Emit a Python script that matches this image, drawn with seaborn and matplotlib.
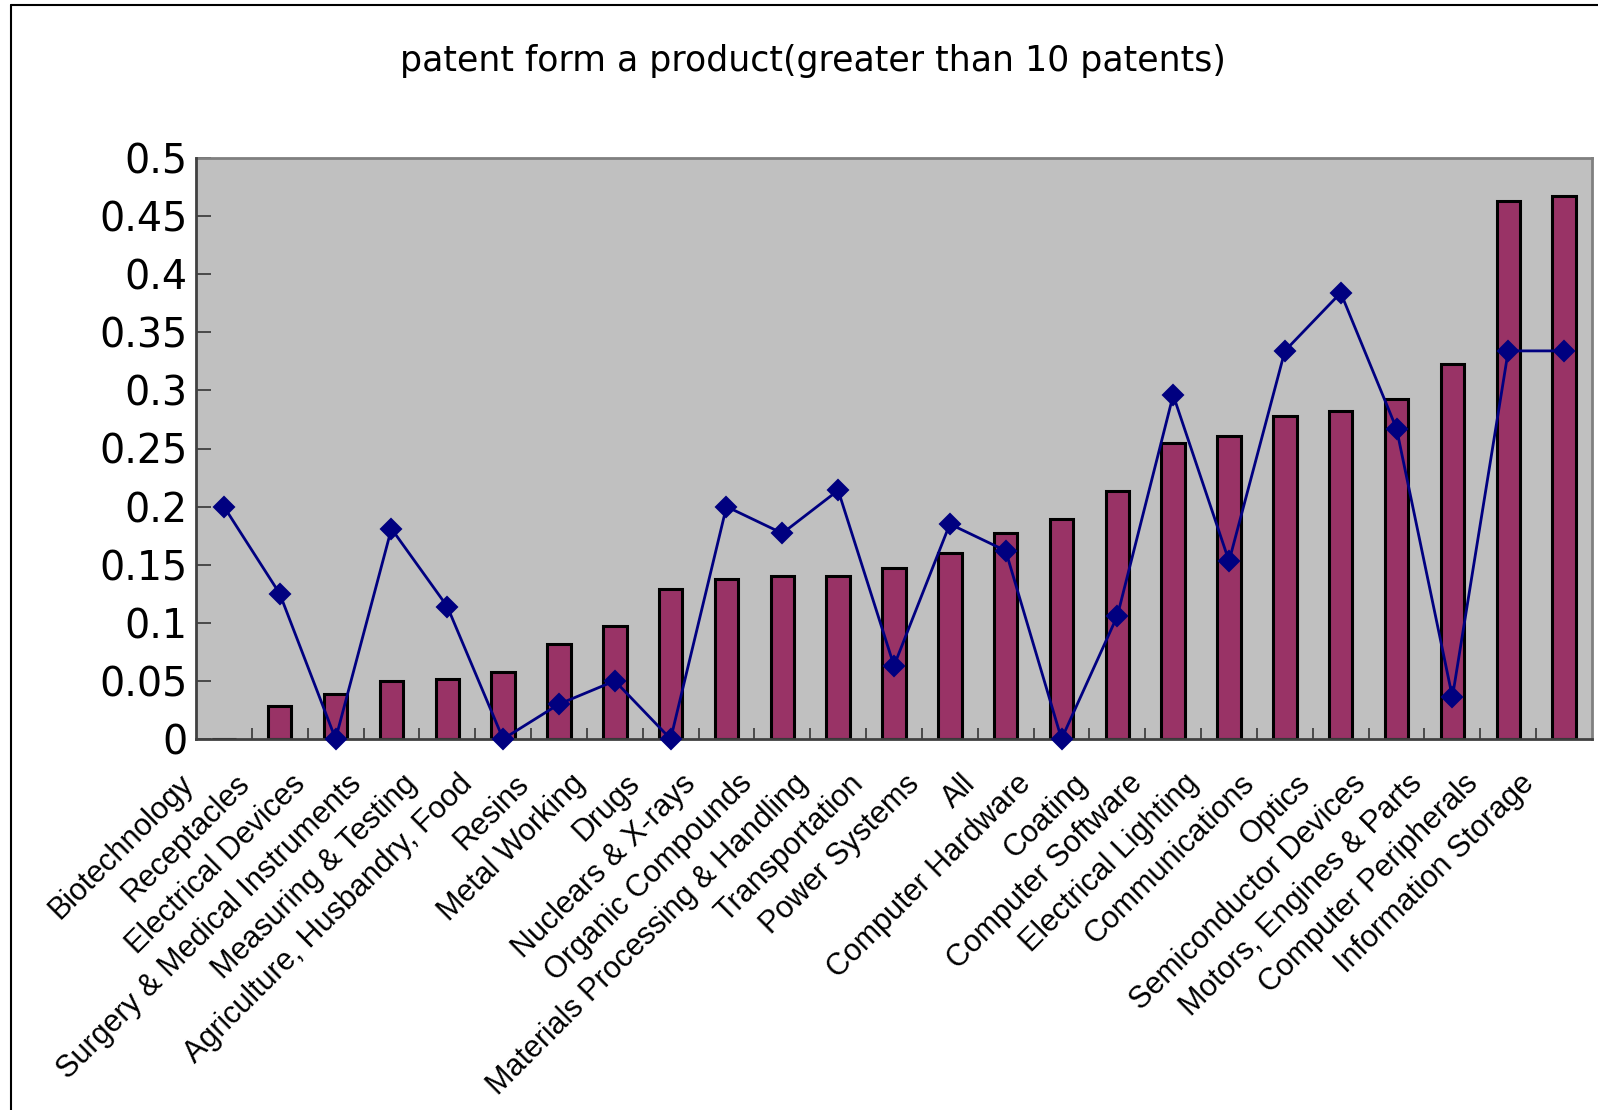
import matplotlib
matplotlib.use("Agg")
import matplotlib.pyplot as plt
import matplotlib.transforms as mtransforms
from matplotlib.lines import Line2D
import seaborn as sns
import pandas as pd

# categories (in chart order)
categories = [
    "Biotechnology", "Receptacles", "Electrical Devices",
    "Surgery & Medical Instruments", "Measuring & Testing",
    "Agriculture, Husbandry, Food", "Resins", "Metal Working", "Drugs",
    "Nuclears & X-rays", "Organic Compounds", "Materials Processing & Handling",
    "Transportation", "Power Systems", "All", "Computer Hardware", "Coating",
    "Computer Software", "Electrical Lighting", "Communications", "Optics",
    "Semiconductor Devices", "Motors, Engines & Parts", "Computer Peripherals",
    "Information Storage",
]

# bar series
bar_values = [
    0.0, 0.028, 0.039, 0.050, 0.052, 0.058, 0.082, 0.097, 0.129, 0.138,
    0.140, 0.140, 0.147, 0.160, 0.177, 0.189, 0.213, 0.255, 0.261, 0.278,
    0.282, 0.293, 0.323, 0.463, 0.467,
]

# line series
line_values = [
    0.200, 0.125, 0.0, 0.181, 0.114, 0.0, 0.030, 0.050, 0.0, 0.200,
    0.177, 0.214, 0.063, 0.185, 0.162, 0.0, 0.106, 0.296, 0.153, 0.334,
    0.384, 0.267, 0.036, 0.334, 0.334,
]

y_ticks = [0, 0.05, 0.1, 0.15, 0.2, 0.25, 0.3, 0.35, 0.4, 0.45, 0.5]
y_tick_labels = ["0", "0.05", "0.1", "0.15", "0.2", "0.25", "0.3", "0.35",
                 "0.4", "0.45", "0.5"]

title = "patent form a product(greater than 10 patents)"

df = pd.DataFrame({"category": categories, "bar": bar_values, "line": line_values})

sns.set_style("white")
plt.rcParams["font.family"] = ["DejaVu Sans"]
plt.rcParams["text.color"] = "black"

W, H = 1598, 1110
fig = plt.figure(figsize=(W / 100, H / 100), dpi=100)
ax = fig.add_axes([196 / W, 1 - 739 / H, (1592 - 196) / W, (739 - 158) / H])
ax.set_facecolor("#C0C0C0")

sns.barplot(data=df, x="category", y="bar", color="#993366", width=0.42,
            edgecolor="black", linewidth=2.2, saturation=1, ax=ax, zorder=2)
sns.pointplot(data=df, x="category", y="line", color="#000080", markers="D",
              markersize=10, linewidth=2.0, ax=ax, zorder=4)
for ln in ax.lines:
    ln.set_clip_on(False)

ax.set_xlim(-0.5, len(categories) - 0.5)
ax.set_ylim(0, 0.5)
ax.set_xlabel("")
ax.set_ylabel("")

# y axis
ax.set_yticks(y_ticks)
ax.set_yticklabels(y_tick_labels, fontsize=28.5, family="DejaVu Sans",
                   color="black")
ax.tick_params(axis="y", direction="in", length=11, width=1.3,
               color="#404040", pad=6, left=True)

# x axis: ticks between categories, labels at centres
ax.set_xticks(range(len(categories)))
ax.set_xticklabels(categories, rotation=45, ha="right", va="center",
                   rotation_mode="anchor", fontsize=22,
                   family="Liberation Sans", color="black")
ax.tick_params(axis="x", which="major", length=0, pad=29)
ax.set_xticks([i + 0.5 for i in range(len(categories) - 1)], minor=True)
ax.tick_params(axis="x", which="minor", direction="in", length=8, width=1.3,
               color="#404040", bottom=True)
offset = mtransforms.ScaledTranslation(-25 / 72, 0, fig.dpi_scale_trans)
for lab in ax.get_xticklabels():
    lab.set_transform(lab.get_transform() + offset)

for side in ["top", "right"]:
    ax.spines[side].set_color("#808080")
    ax.spines[side].set_linewidth(2)
for side in ["left", "bottom"]:
    ax.spines[side].set_color("#404040")
    ax.spines[side].set_linewidth(2)
    ax.spines[side].set_zorder(3)

fig.text(813 / W, 1 - 61 / H, title, ha="center", va="center", fontsize=25,
         family="DejaVu Sans", color="black")

# outer chart border (top and left edges only visible)
fig.add_artist(Line2D([11 / W, 1], [1 - 5 / H, 1 - 5 / H], color="black",
                      linewidth=1.5, transform=fig.transFigure))
fig.add_artist(Line2D([11 / W, 11 / W], [0, 1 - 5 / H], color="black",
                      linewidth=1.5, transform=fig.transFigure))

fig.savefig("out.png", dpi=100)
